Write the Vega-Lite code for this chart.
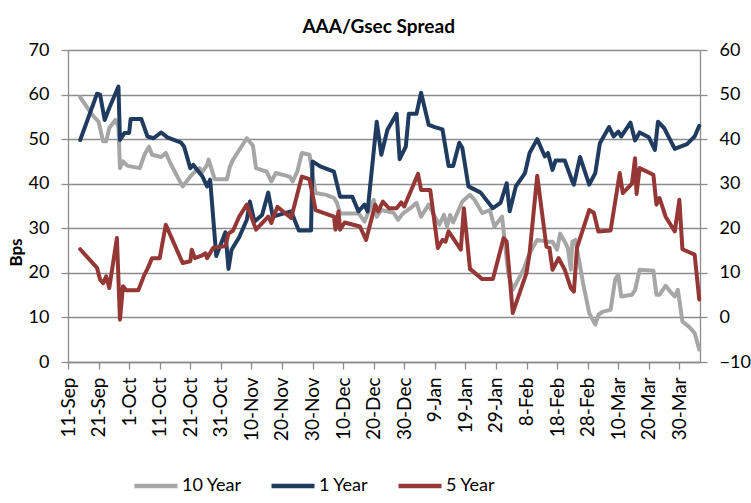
{
  "$schema": "https://vega.github.io/schema/vega-lite/v6.json",
  "width": 632,
  "height": 312,
  "autosize": {"type": "none"},
  "padding": {"left": 68, "top": 50, "right": 51, "bottom": 141},
  "background": "white",
  "config": {
    "view": {"stroke": null},
    "font": "Lato",
    "axis": {"labelFont": "Lato", "titleFont": "Lato", "labelColor": "#000", "titleColor": "#000", "domainColor": "#8c8c8c", "tickColor": "#8c8c8c", "gridColor": "#8c8c8c", "domainWidth": 1.3, "tickWidth": 1.3, "gridWidth": 1.3}
  },
  "title": {"text": "AAA/Gsec Spread", "font": "Lato", "fontSize": 19, "fontWeight": "bold", "color": "#000", "anchor": "middle", "frame": "bounds", "offset": 4},
  "datasets": {
    "spread": [
      {"date": "2012-09-15", "series": "10 Year", "v": 59.4},
      {"date": "2012-09-19", "series": "10 Year", "v": 55.4},
      {"date": "2012-09-21", "series": "10 Year", "v": 53.9},
      {"date": "2012-09-22T12:00Z", "series": "10 Year", "v": 49.5},
      {"date": "2012-09-23T12:00Z", "series": "10 Year", "v": 49.5},
      {"date": "2012-09-24T12:00Z", "series": "10 Year", "v": 52.5},
      {"date": "2012-09-26T12:00Z", "series": "10 Year", "v": 54.3},
      {"date": "2012-09-27T12:00Z", "series": "10 Year", "v": 52.8},
      {"date": "2012-09-28", "series": "10 Year", "v": 43.5},
      {"date": "2012-09-29", "series": "10 Year", "v": 45},
      {"date": "2012-09-30T12:00Z", "series": "10 Year", "v": 44},
      {"date": "2012-10-04T12:00Z", "series": "10 Year", "v": 43.5},
      {"date": "2012-10-06", "series": "10 Year", "v": 46.5},
      {"date": "2012-10-07T12:00Z", "series": "10 Year", "v": 48.3},
      {"date": "2012-10-08T12:00Z", "series": "10 Year", "v": 46.5},
      {"date": "2012-10-11T12:00Z", "series": "10 Year", "v": 46},
      {"date": "2012-10-13", "series": "10 Year", "v": 46.9},
      {"date": "2012-10-14T12:00Z", "series": "10 Year", "v": 44.6},
      {"date": "2012-10-17", "series": "10 Year", "v": 41.3},
      {"date": "2012-10-18T12:00Z", "series": "10 Year", "v": 39.4},
      {"date": "2012-10-21T12:00Z", "series": "10 Year", "v": 42},
      {"date": "2012-10-22T12:00Z", "series": "10 Year", "v": 42.7},
      {"date": "2012-10-24", "series": "10 Year", "v": 43.5},
      {"date": "2012-10-25", "series": "10 Year", "v": 42.7},
      {"date": "2012-10-26T12:00Z", "series": "10 Year", "v": 44.2},
      {"date": "2012-10-27", "series": "10 Year", "v": 45.4},
      {"date": "2012-10-29", "series": "10 Year", "v": 41},
      {"date": "2012-11-02", "series": "10 Year", "v": 41},
      {"date": "2012-11-03", "series": "10 Year", "v": 43.9},
      {"date": "2012-11-04", "series": "10 Year", "v": 45.4},
      {"date": "2012-11-08T12:00Z", "series": "10 Year", "v": 50.2},
      {"date": "2012-11-10T12:00Z", "series": "10 Year", "v": 48.5},
      {"date": "2012-11-11T12:00Z", "series": "10 Year", "v": 43.5},
      {"date": "2012-11-15", "series": "10 Year", "v": 42.7},
      {"date": "2012-11-16T12:00Z", "series": "10 Year", "v": 40.5},
      {"date": "2012-11-18", "series": "10 Year", "v": 42.4},
      {"date": "2012-11-22T12:00Z", "series": "10 Year", "v": 41.6},
      {"date": "2012-11-23T12:00Z", "series": "10 Year", "v": 40.5},
      {"date": "2012-11-25", "series": "10 Year", "v": 42.7},
      {"date": "2012-11-26T12:00Z", "series": "10 Year", "v": 46.9},
      {"date": "2012-11-29", "series": "10 Year", "v": 46.5},
      {"date": "2012-12-01", "series": "10 Year", "v": 37.9},
      {"date": "2012-12-04T12:00Z", "series": "10 Year", "v": 37.5},
      {"date": "2012-12-07", "series": "10 Year", "v": 36.8},
      {"date": "2012-12-08", "series": "10 Year", "v": 35.7},
      {"date": "2012-12-09", "series": "10 Year", "v": 33.3},
      {"date": "2012-12-13", "series": "10 Year", "v": 33.3},
      {"date": "2012-12-15", "series": "10 Year", "v": 33.4},
      {"date": "2012-12-17", "series": "10 Year", "v": 31.5},
      {"date": "2012-12-20", "series": "10 Year", "v": 36.4},
      {"date": "2012-12-21", "series": "10 Year", "v": 32.6},
      {"date": "2012-12-22T12:00Z", "series": "10 Year", "v": 34.1},
      {"date": "2012-12-26T12:00Z", "series": "10 Year", "v": 33.5},
      {"date": "2012-12-28", "series": "10 Year", "v": 31.9},
      {"date": "2012-12-29T12:00Z", "series": "10 Year", "v": 33.3},
      {"date": "2013-01-01", "series": "10 Year", "v": 34.5},
      {"date": "2013-01-03", "series": "10 Year", "v": 35.7},
      {"date": "2013-01-04T12:00Z", "series": "10 Year", "v": 32.6},
      {"date": "2013-01-07", "series": "10 Year", "v": 35.3},
      {"date": "2013-01-09", "series": "10 Year", "v": 32.6},
      {"date": "2013-01-10T12:00Z", "series": "10 Year", "v": 30.8},
      {"date": "2013-01-12", "series": "10 Year", "v": 33},
      {"date": "2013-01-13", "series": "10 Year", "v": 30.4},
      {"date": "2013-01-14", "series": "10 Year", "v": 33},
      {"date": "2013-01-15", "series": "10 Year", "v": 31.3},
      {"date": "2013-01-18", "series": "10 Year", "v": 36},
      {"date": "2013-01-20T12:00Z", "series": "10 Year", "v": 37.5},
      {"date": "2013-01-22", "series": "10 Year", "v": 36.4},
      {"date": "2013-01-24T12:00Z", "series": "10 Year", "v": 33.4},
      {"date": "2013-01-27", "series": "10 Year", "v": 34.1},
      {"date": "2013-01-28T12:00Z", "series": "10 Year", "v": 30.4},
      {"date": "2013-01-31", "series": "10 Year", "v": 32.6},
      {"date": "2013-02-02", "series": "10 Year", "v": 20},
      {"date": "2013-02-03T12:00Z", "series": "10 Year", "v": 16.2},
      {"date": "2013-02-07", "series": "10 Year", "v": 20.7},
      {"date": "2013-02-09", "series": "10 Year", "v": 24.4},
      {"date": "2013-02-11T12:00Z", "series": "10 Year", "v": 27.4},
      {"date": "2013-02-14T12:00Z", "series": "10 Year", "v": 27},
      {"date": "2013-02-16T12:00Z", "series": "10 Year", "v": 27},
      {"date": "2013-02-18", "series": "10 Year", "v": 25.2},
      {"date": "2013-02-19", "series": "10 Year", "v": 28.8},
      {"date": "2013-02-20T12:00Z", "series": "10 Year", "v": 27},
      {"date": "2013-02-21T12:00Z", "series": "10 Year", "v": 25.6},
      {"date": "2013-02-22T12:00Z", "series": "10 Year", "v": 20.7},
      {"date": "2013-02-23", "series": "10 Year", "v": 27},
      {"date": "2013-02-24", "series": "10 Year", "v": 27.4},
      {"date": "2013-02-26T12:00Z", "series": "10 Year", "v": 17.7},
      {"date": "2013-02-28T12:00Z", "series": "10 Year", "v": 11},
      {"date": "2013-03-02T12:00Z", "series": "10 Year", "v": 8.4},
      {"date": "2013-03-03T12:00Z", "series": "10 Year", "v": 10.6},
      {"date": "2013-03-05", "series": "10 Year", "v": 11.3},
      {"date": "2013-03-07T12:00Z", "series": "10 Year", "v": 11.7},
      {"date": "2013-03-09", "series": "10 Year", "v": 18.5},
      {"date": "2013-03-10", "series": "10 Year", "v": 19.6},
      {"date": "2013-03-11", "series": "10 Year", "v": 14.7},
      {"date": "2013-03-14T12:00Z", "series": "10 Year", "v": 15.1},
      {"date": "2013-03-15T12:00Z", "series": "10 Year", "v": 16.1},
      {"date": "2013-03-17", "series": "10 Year", "v": 20.7},
      {"date": "2013-03-21T12:00Z", "series": "10 Year", "v": 20.5},
      {"date": "2013-03-22T12:00Z", "series": "10 Year", "v": 15.1},
      {"date": "2013-03-23T12:00Z", "series": "10 Year", "v": 15.1},
      {"date": "2013-03-25T12:00Z", "series": "10 Year", "v": 17.1},
      {"date": "2013-03-27", "series": "10 Year", "v": 15.8},
      {"date": "2013-03-28T12:00Z", "series": "10 Year", "v": 14.7},
      {"date": "2013-03-29T12:00Z", "series": "10 Year", "v": 16.2},
      {"date": "2013-03-31", "series": "10 Year", "v": 9.1},
      {"date": "2013-04-02", "series": "10 Year", "v": 8},
      {"date": "2013-04-04", "series": "10 Year", "v": 6.5},
      {"date": "2013-04-05T12:00Z", "series": "10 Year", "v": 2.8},

      {"date": "2012-09-15", "series": "1 Year", "v": 49.8},
      {"date": "2012-09-20T12:00Z", "series": "1 Year", "v": 60.2},
      {"date": "2012-09-21T12:00Z", "series": "1 Year", "v": 60},
      {"date": "2012-09-23", "series": "1 Year", "v": 54.3},
      {"date": "2012-09-24T12:00Z", "series": "1 Year", "v": 57},
      {"date": "2012-09-27T12:00Z", "series": "1 Year", "v": 61.8},
      {"date": "2012-09-28", "series": "1 Year", "v": 49.8},
      {"date": "2012-09-29T12:00Z", "series": "1 Year", "v": 51.4},
      {"date": "2012-10-01", "series": "1 Year", "v": 51.4},
      {"date": "2012-10-01T12:00Z", "series": "1 Year", "v": 54.5},
      {"date": "2012-10-05", "series": "1 Year", "v": 54.5},
      {"date": "2012-10-07", "series": "1 Year", "v": 50.6},
      {"date": "2012-10-09", "series": "1 Year", "v": 50.2},
      {"date": "2012-10-11T12:00Z", "series": "1 Year", "v": 51.5},
      {"date": "2012-10-13T12:00Z", "series": "1 Year", "v": 50.4},
      {"date": "2012-10-18", "series": "1 Year", "v": 49.2},
      {"date": "2012-10-19", "series": "1 Year", "v": 48.3},
      {"date": "2012-10-21", "series": "1 Year", "v": 43.5},
      {"date": "2012-10-22", "series": "1 Year", "v": 44.2},
      {"date": "2012-10-25", "series": "1 Year", "v": 41.6},
      {"date": "2012-10-26T12:00Z", "series": "1 Year", "v": 39.4},
      {"date": "2012-10-27T12:00Z", "series": "1 Year", "v": 40.9},
      {"date": "2012-10-29T12:00Z", "series": "1 Year", "v": 23.8},
      {"date": "2012-11-01T12:00Z", "series": "1 Year", "v": 29.1},
      {"date": "2012-11-02T12:00Z", "series": "1 Year", "v": 20.9},
      {"date": "2012-11-03T12:00Z", "series": "1 Year", "v": 25.2},
      {"date": "2012-11-06", "series": "1 Year", "v": 28},
      {"date": "2012-11-08T12:00Z", "series": "1 Year", "v": 31.9},
      {"date": "2012-11-09T12:00Z", "series": "1 Year", "v": 36},
      {"date": "2012-11-11", "series": "1 Year", "v": 31.5},
      {"date": "2012-11-13T12:00Z", "series": "1 Year", "v": 33},
      {"date": "2012-11-15T12:00Z", "series": "1 Year", "v": 38},
      {"date": "2012-11-17", "series": "1 Year", "v": 32.6},
      {"date": "2012-11-21", "series": "1 Year", "v": 33.4},
      {"date": "2012-11-23", "series": "1 Year", "v": 33.8},
      {"date": "2012-11-25T12:00Z", "series": "1 Year", "v": 29.5},
      {"date": "2012-11-29T12:00Z", "series": "1 Year", "v": 29.5},
      {"date": "2012-11-30", "series": "1 Year", "v": 45},
      {"date": "2012-12-02T12:00Z", "series": "1 Year", "v": 43.9},
      {"date": "2012-12-07", "series": "1 Year", "v": 42.7},
      {"date": "2012-12-09", "series": "1 Year", "v": 37.1},
      {"date": "2012-12-13", "series": "1 Year", "v": 37.1},
      {"date": "2012-12-15", "series": "1 Year", "v": 33.8},
      {"date": "2012-12-17", "series": "1 Year", "v": 35.3},
      {"date": "2012-12-18", "series": "1 Year", "v": 33.8},
      {"date": "2012-12-21", "series": "1 Year", "v": 53.9},
      {"date": "2012-12-22T12:00Z", "series": "1 Year", "v": 46.5},
      {"date": "2012-12-24T12:00Z", "series": "1 Year", "v": 52.1},
      {"date": "2012-12-27T12:00Z", "series": "1 Year", "v": 55.7},
      {"date": "2012-12-28T12:00Z", "series": "1 Year", "v": 45.5},
      {"date": "2012-12-30T12:00Z", "series": "1 Year", "v": 48.3},
      {"date": "2012-12-31T12:00Z", "series": "1 Year", "v": 55.7},
      {"date": "2013-01-03", "series": "1 Year", "v": 55.7},
      {"date": "2013-01-04T12:00Z", "series": "1 Year", "v": 60.4},
      {"date": "2013-01-07", "series": "1 Year", "v": 53.2},
      {"date": "2013-01-09", "series": "1 Year", "v": 52.7},
      {"date": "2013-01-11T12:00Z", "series": "1 Year", "v": 52.2},
      {"date": "2013-01-13T12:00Z", "series": "1 Year", "v": 44},
      {"date": "2013-01-15", "series": "1 Year", "v": 44},
      {"date": "2013-01-17", "series": "1 Year", "v": 49.2},
      {"date": "2013-01-18", "series": "1 Year", "v": 48},
      {"date": "2013-01-20", "series": "1 Year", "v": 39.4},
      {"date": "2013-01-24", "series": "1 Year", "v": 38},
      {"date": "2013-01-25", "series": "1 Year", "v": 37.1},
      {"date": "2013-01-28", "series": "1 Year", "v": 34.5},
      {"date": "2013-01-30T12:00Z", "series": "1 Year", "v": 35.7},
      {"date": "2013-02-01T12:00Z", "series": "1 Year", "v": 40.1},
      {"date": "2013-02-02T12:00Z", "series": "1 Year", "v": 33.8},
      {"date": "2013-02-04T12:00Z", "series": "1 Year", "v": 39.4},
      {"date": "2013-02-07T12:00Z", "series": "1 Year", "v": 42.4},
      {"date": "2013-02-09", "series": "1 Year", "v": 46.9},
      {"date": "2013-02-11T12:00Z", "series": "1 Year", "v": 50},
      {"date": "2013-02-14", "series": "1 Year", "v": 46.1},
      {"date": "2013-02-15", "series": "1 Year", "v": 46.9},
      {"date": "2013-02-16T12:00Z", "series": "1 Year", "v": 43.1},
      {"date": "2013-02-17T12:00Z", "series": "1 Year", "v": 45.2},
      {"date": "2013-02-20T12:00Z", "series": "1 Year", "v": 45.2},
      {"date": "2013-02-23", "series": "1 Year", "v": 40.5},
      {"date": "2013-02-23T12:00Z", "series": "1 Year", "v": 39.8},
      {"date": "2013-02-25T12:00Z", "series": "1 Year", "v": 46},
      {"date": "2013-02-28T12:00Z", "series": "1 Year", "v": 39.8},
      {"date": "2013-03-02T12:00Z", "series": "1 Year", "v": 42.4},
      {"date": "2013-03-04", "series": "1 Year", "v": 49.1},
      {"date": "2013-03-07", "series": "1 Year", "v": 52.7},
      {"date": "2013-03-08T12:00Z", "series": "1 Year", "v": 50.6},
      {"date": "2013-03-10", "series": "1 Year", "v": 51.7},
      {"date": "2013-03-11", "series": "1 Year", "v": 50.6},
      {"date": "2013-03-14", "series": "1 Year", "v": 53.7},
      {"date": "2013-03-15T12:00Z", "series": "1 Year", "v": 49.7},
      {"date": "2013-03-17", "series": "1 Year", "v": 51.5},
      {"date": "2013-03-20", "series": "1 Year", "v": 50.4},
      {"date": "2013-03-22", "series": "1 Year", "v": 47.6},
      {"date": "2013-03-23", "series": "1 Year", "v": 53.9},
      {"date": "2013-03-25", "series": "1 Year", "v": 52.5},
      {"date": "2013-03-28T12:00Z", "series": "1 Year", "v": 47.8},
      {"date": "2013-03-31", "series": "1 Year", "v": 48.5},
      {"date": "2013-04-01T12:00Z", "series": "1 Year", "v": 48.9},
      {"date": "2013-04-04", "series": "1 Year", "v": 50.6},
      {"date": "2013-04-05T12:00Z", "series": "1 Year", "v": 53},

      {"date": "2012-09-15", "series": "5 Year", "v": 15.3},
      {"date": "2012-09-20T12:00Z", "series": "5 Year", "v": 11.1},
      {"date": "2012-09-21T12:00Z", "series": "5 Year", "v": 8.5},
      {"date": "2012-09-22T12:00Z", "series": "5 Year", "v": 7.7},
      {"date": "2012-09-23T12:00Z", "series": "5 Year", "v": 9.2},
      {"date": "2012-09-24T12:00Z", "series": "5 Year", "v": 6.6},
      {"date": "2012-09-27", "series": "5 Year", "v": 17.8},
      {"date": "2012-09-28", "series": "5 Year", "v": -0.5},
      {"date": "2012-09-29", "series": "5 Year", "v": 7},
      {"date": "2012-09-30", "series": "5 Year", "v": 6.1},
      {"date": "2012-10-04", "series": "5 Year", "v": 6.1},
      {"date": "2012-10-06", "series": "5 Year", "v": 9.6},
      {"date": "2012-10-07", "series": "5 Year", "v": 10.9},
      {"date": "2012-10-08T12:00Z", "series": "5 Year", "v": 13.3},
      {"date": "2012-10-11", "series": "5 Year", "v": 13.3},
      {"date": "2012-10-13", "series": "5 Year", "v": 20.8},
      {"date": "2012-10-18T12:00Z", "series": "5 Year", "v": 12.2},
      {"date": "2012-10-21", "series": "5 Year", "v": 12.6},
      {"date": "2012-10-21T12:00Z", "series": "5 Year", "v": 15.2},
      {"date": "2012-10-22T12:00Z", "series": "5 Year", "v": 13.3},
      {"date": "2012-10-24T12:00Z", "series": "5 Year", "v": 13.8},
      {"date": "2012-10-26", "series": "5 Year", "v": 14.4},
      {"date": "2012-10-26T12:00Z", "series": "5 Year", "v": 13.3},
      {"date": "2012-10-28T12:00Z", "series": "5 Year", "v": 15.6},
      {"date": "2012-11-01T12:00Z", "series": "5 Year", "v": 16},
      {"date": "2012-11-02T12:00Z", "series": "5 Year", "v": 18.8},
      {"date": "2012-11-04", "series": "5 Year", "v": 19.5},
      {"date": "2012-11-06", "series": "5 Year", "v": 22.6},
      {"date": "2012-11-08T12:00Z", "series": "5 Year", "v": 25.3},
      {"date": "2012-11-11T12:00Z", "series": "5 Year", "v": 19.7},
      {"date": "2012-11-15T12:00Z", "series": "5 Year", "v": 22.6},
      {"date": "2012-11-16T12:00Z", "series": "5 Year", "v": 21.2},
      {"date": "2012-11-18T12:00Z", "series": "5 Year", "v": 24.8},
      {"date": "2012-11-23", "series": "5 Year", "v": 22.3},
      {"date": "2012-11-26T12:00Z", "series": "5 Year", "v": 31.6},
      {"date": "2012-11-29", "series": "5 Year", "v": 31},
      {"date": "2012-12-01", "series": "5 Year", "v": 24.1},
      {"date": "2012-12-07", "series": "5 Year", "v": 22.6},
      {"date": "2012-12-07T12:00Z", "series": "5 Year", "v": 19.7},
      {"date": "2012-12-08T12:00Z", "series": "5 Year", "v": 23.8},
      {"date": "2012-12-09", "series": "5 Year", "v": 19.7},
      {"date": "2012-12-10T12:00Z", "series": "5 Year", "v": 21.3},
      {"date": "2012-12-15T12:00Z", "series": "5 Year", "v": 20.4},
      {"date": "2012-12-17T12:00Z", "series": "5 Year", "v": 17.4},
      {"date": "2012-12-20T12:00Z", "series": "5 Year", "v": 25.3},
      {"date": "2012-12-21T12:00Z", "series": "5 Year", "v": 23.8},
      {"date": "2012-12-23", "series": "5 Year", "v": 26},
      {"date": "2012-12-25", "series": "5 Year", "v": 24.5},
      {"date": "2012-12-27T12:00Z", "series": "5 Year", "v": 24.5},
      {"date": "2012-12-29", "series": "5 Year", "v": 25.8},
      {"date": "2012-12-30", "series": "5 Year", "v": 24.9},
      {"date": "2013-01-03T12:00Z", "series": "5 Year", "v": 32.2},
      {"date": "2013-01-04T12:00Z", "series": "5 Year", "v": 28.6},
      {"date": "2013-01-07T12:00Z", "series": "5 Year", "v": 28.6},
      {"date": "2013-01-10", "series": "5 Year", "v": 15.6},
      {"date": "2013-01-11T12:00Z", "series": "5 Year", "v": 17.4},
      {"date": "2013-01-12T12:00Z", "series": "5 Year", "v": 17},
      {"date": "2013-01-13T12:00Z", "series": "5 Year", "v": 19.3},
      {"date": "2013-01-17T12:00Z", "series": "5 Year", "v": 15.2},
      {"date": "2013-01-18T12:00Z", "series": "5 Year", "v": 24.5},
      {"date": "2013-01-20T12:00Z", "series": "5 Year", "v": 10.9},
      {"date": "2013-01-24T12:00Z", "series": "5 Year", "v": 8.6},
      {"date": "2013-01-28", "series": "5 Year", "v": 8.6},
      {"date": "2013-01-31T12:00Z", "series": "5 Year", "v": 17.8},
      {"date": "2013-02-01T12:00Z", "series": "5 Year", "v": 17},
      {"date": "2013-02-03T12:00Z", "series": "5 Year", "v": 1},
      {"date": "2013-02-08", "series": "5 Year", "v": 10},
      {"date": "2013-02-09", "series": "5 Year", "v": 14.4},
      {"date": "2013-02-11T12:00Z", "series": "5 Year", "v": 31.8},
      {"date": "2013-02-14T12:00Z", "series": "5 Year", "v": 15.9},
      {"date": "2013-02-15T12:00Z", "series": "5 Year", "v": 15.6},
      {"date": "2013-02-16T12:00Z", "series": "5 Year", "v": 10.7},
      {"date": "2013-02-18T12:00Z", "series": "5 Year", "v": 13.3},
      {"date": "2013-02-20T12:00Z", "series": "5 Year", "v": 10.7},
      {"date": "2013-02-22T12:00Z", "series": "5 Year", "v": 6.6},
      {"date": "2013-02-23T12:00Z", "series": "5 Year", "v": 5.8},
      {"date": "2013-02-24T12:00Z", "series": "5 Year", "v": 15.6},
      {"date": "2013-02-28T12:00Z", "series": "5 Year", "v": 24.1},
      {"date": "2013-03-02", "series": "5 Year", "v": 23.5},
      {"date": "2013-03-03T12:00Z", "series": "5 Year", "v": 19.3},
      {"date": "2013-03-07T12:00Z", "series": "5 Year", "v": 19.5},
      {"date": "2013-03-10T12:00Z", "series": "5 Year", "v": 32.4},
      {"date": "2013-03-11T12:00Z", "series": "5 Year", "v": 27.9},
      {"date": "2013-03-14T12:00Z", "series": "5 Year", "v": 30},
      {"date": "2013-03-15T12:00Z", "series": "5 Year", "v": 35.7},
      {"date": "2013-03-16", "series": "5 Year", "v": 27.7},
      {"date": "2013-03-17", "series": "5 Year", "v": 33.5},
      {"date": "2013-03-21T12:00Z", "series": "5 Year", "v": 32},
      {"date": "2013-03-22T12:00Z", "series": "5 Year", "v": 25.3},
      {"date": "2013-03-23T12:00Z", "series": "5 Year", "v": 26.8},
      {"date": "2013-03-25T12:00Z", "series": "5 Year", "v": 22.6},
      {"date": "2013-03-28T12:00Z", "series": "5 Year", "v": 19.3},
      {"date": "2013-03-30", "series": "5 Year", "v": 26.4},
      {"date": "2013-03-31", "series": "5 Year", "v": 15.3},
      {"date": "2013-04-04", "series": "5 Year", "v": 14.1},
      {"date": "2013-04-05T12:00Z", "series": "5 Year", "v": 4}
    ]
  },
  "data": {"name": "spread"},
  "encoding": {
    "x": {
      "field": "date",
      "type": "temporal",
      "scale": {
        "type": "utc",
        "domain": [
          {"year": 2012, "month": 9, "date": 11, "utc": true},
          {"year": 2013, "month": 4, "date": 5, "hours": 18, "utc": true}
        ]
      },
      "axis": {
        "title": null,
        "grid": false,
        "labelExpr": "utcFormat(datum.value, '%-d-%b')",
        "labelAngle": -90,
        "labelAlign": "right",
        "labelBaseline": "middle",
        "labelFontSize": 19,
        "labelPadding": 8,
        "tickSize": 7,
        "labelOverlap": false,
        "values": [
          {"year": 2012, "month": 9, "date": 11, "utc": true},
          {"year": 2012, "month": 9, "date": 21, "utc": true},
          {"year": 2012, "month": 10, "date": 1, "utc": true},
          {"year": 2012, "month": 10, "date": 11, "utc": true},
          {"year": 2012, "month": 10, "date": 21, "utc": true},
          {"year": 2012, "month": 10, "date": 31, "utc": true},
          {"year": 2012, "month": 11, "date": 10, "utc": true},
          {"year": 2012, "month": 11, "date": 20, "utc": true},
          {"year": 2012, "month": 11, "date": 30, "utc": true},
          {"year": 2012, "month": 12, "date": 10, "utc": true},
          {"year": 2012, "month": 12, "date": 20, "utc": true},
          {"year": 2012, "month": 12, "date": 30, "utc": true},
          {"year": 2013, "month": 1, "date": 9, "utc": true},
          {"year": 2013, "month": 1, "date": 19, "utc": true},
          {"year": 2013, "month": 1, "date": 29, "utc": true},
          {"year": 2013, "month": 2, "date": 8, "utc": true},
          {"year": 2013, "month": 2, "date": 18, "utc": true},
          {"year": 2013, "month": 2, "date": 28, "utc": true},
          {"year": 2013, "month": 3, "date": 10, "utc": true},
          {"year": 2013, "month": 3, "date": 20, "utc": true},
          {"year": 2013, "month": 3, "date": 30, "utc": true}
        ]
      }
    },
    "color": {
      "field": "series",
      "type": "nominal",
      "scale": {"domain": ["10 Year", "1 Year", "5 Year"], "range": ["#a6a6a6", "#1f3b5f", "#953735"]},
      "legend": {
        "title": null,
        "orient": "none",
        "legendX": 64,
        "legendY": 412,
        "direction": "horizontal",
        "symbolType": "stroke",
        "symbolSize": 1850,
        "symbolStrokeWidth": 4.5,
        "labelFont": "Lato",
        "labelFontSize": 18,
        "labelColor": "#000",
        "labelOffset": 2,
        "columnPadding": 20
      }
    }
  },
  "layer": [
    {
      "transform": [{"filter": "datum.series !== '5 Year'"}],
      "mark": {"type": "line", "strokeWidth": 4, "strokeJoin": "round", "strokeCap": "round"},
      "encoding": {
        "y": {
          "field": "v",
          "type": "quantitative",
          "scale": {"domain": [0, 70], "nice": false, "zero": false},
          "axis": {
            "title": "Bps",
            "titleFontSize": 17,
            "titleFontWeight": "bold",
            "titleX": -52,
            "titleY": 202,
            "titleAlign": "center",
            "titleBaseline": "middle",
            "values": [0, 10, 20, 30, 40, 50, 60, 70],
            "labelFontSize": 18,
            "labelPadding": 12,
            "tickSize": 7,
            "grid": true
          }
        }
      }
    },
    {
      "transform": [{"filter": "datum.series === '5 Year'"}],
      "mark": {"type": "line", "strokeWidth": 4, "strokeJoin": "round", "strokeCap": "round"},
      "encoding": {
        "y": {
          "field": "v",
          "type": "quantitative",
          "scale": {"domain": [-10, 60], "nice": false, "zero": false},
          "axis": {
            "orient": "right",
            "title": null,
            "values": [-10, 0, 10, 20, 30, 40, 50, 60],
            "labelFontSize": 18,
            "labelPadding": 12,
            "tickSize": 7,
            "grid": false
          }
        }
      }
    }
  ],
  "resolve": {"scale": {"y": "independent"}, "axis": {"y": "independent"}}
}
